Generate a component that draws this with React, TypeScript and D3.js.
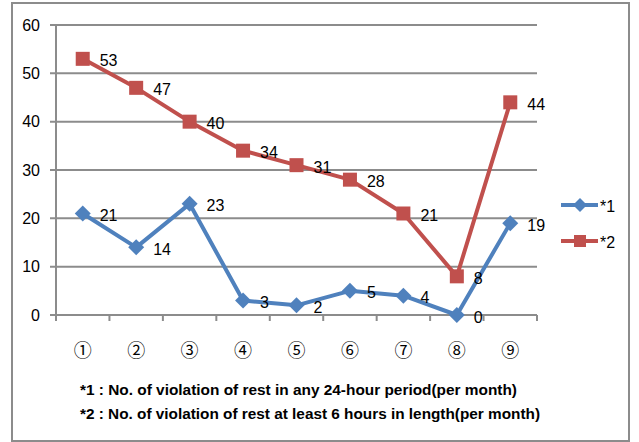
import React from "react";
import * as d3 from "d3";

const categories = ["①", "②", "③", "④", "⑤", "⑥", "⑦", "⑧", "⑨"];
const series1 = [21, 14, 23, 3, 2, 5, 4, 0, 19];
const series2 = [53, 47, 40, 34, 31, 28, 21, 8, 44];
const yTicks = [0, 10, 20, 30, 40, 50, 60];
const seriesNames = ["*1", "*2"];
const footnotes = [
  "*1 : No. of violation  of rest in any 24-hour period(per month)",
  "*2 : No. of violation  of rest at least 6 hours in length(per month)",
];

const W = 639;
const H = 442;
const plotL = 56;
const plotR = 537;
const plotT = 25;
const plotB = 315;
const blue = "#4F81BD";
const red = "#C0504D";
const grid = "#8C8C8C";
const font = "'Liberation Sans', Arial, sans-serif";

export default function App() {
  const x = d3.scaleBand().domain(categories).range([plotL, plotR]);
  const y = d3.scaleLinear().domain([0, 60]).range([plotB, plotT]);
  const cx = (i: number) => (x(categories[i]) as number) + x.bandwidth() / 2;
  const line = d3
    .line<number>()
    .x((_, i) => cx(i))
    .y((d) => y(d));

  const diamond = (px: number, py: number, r: number) =>
    `M${px},${py - r}L${px + r},${py}L${px},${py + r}L${px - r},${py}Z`;

  return (
    <svg
      width={W}
      height={H}
      style={{ position: "absolute", left: 0, top: 0, background: "#fff" }}
    >
      <rect x={12} y={3} width={617} height={438} fill="#fff" stroke="#8C8C8C" strokeWidth={2} />
      {yTicks.map((t) => (
        <g key={t}>
          <line x1={plotL - 6} x2={plotR} y1={y(t)} y2={y(t)} stroke={grid} strokeWidth={2} />
          <text
            x={40}
            y={y(t)}
            textAnchor="end"
            dominantBaseline="central"
            fontFamily={font}
            fontSize={16}
            fill="#000"
          >
            {t}
          </text>
        </g>
      ))}
      <line x1={plotL} x2={plotL} y1={plotT} y2={plotB} stroke={grid} strokeWidth={2} />
      {categories.map((c, i) => (
        <line
          key={"tk" + i}
          x1={(x(c) as number)}
          x2={(x(c) as number)}
          y1={plotB}
          y2={plotB + 6}
          stroke={grid}
          strokeWidth={2}
        />
      ))}
      <line x1={plotR} x2={plotR} y1={plotB} y2={plotB + 6} stroke={grid} strokeWidth={2} />
      {categories.map((c, i) => (
        <text
          key={"c" + i}
          x={cx(i)}
          y={349}
          textAnchor="middle"
          dominantBaseline="central"
          fontFamily="'Noto Sans CJK JP', 'DejaVu Sans', sans-serif"
          fontSize={18}
        >
          {c}
        </text>
      ))}
      <path d={line(series2) as string} fill="none" stroke={red} strokeWidth={4} strokeLinejoin="round" />
      <path d={line(series1) as string} fill="none" stroke={blue} strokeWidth={4} strokeLinejoin="round" />
      {series2.map((v, i) => (
        <rect key={"s2" + i} x={cx(i) - 7} y={y(v) - 7} width={14} height={14} fill={red} />
      ))}
      {series1.map((v, i) => (
        <path key={"s1" + i} d={diamond(cx(i), y(v), 8)} fill={blue} />
      ))}
      {series2.map((v, i) => (
        <text
          key={"l2" + i}
          x={cx(i) + 17}
          y={y(v) + 2}
          dominantBaseline="central"
          fontFamily={font}
          fontSize={16}
        >
          {v}
        </text>
      ))}
      {series1.map((v, i) => (
        <text
          key={"l1" + i}
          x={cx(i) + 17}
          y={y(v) + 2}
          dominantBaseline="central"
          fontFamily={font}
          fontSize={16}
        >
          {v}
        </text>
      ))}
      {seriesNames.map((n, i) => {
        const ly = 205 + i * 36;
        const col = i === 0 ? blue : red;
        return (
          <g key={"lg" + i}>
            <line x1={561} x2={598} y1={ly} y2={ly} stroke={col} strokeWidth={4} />
            {i === 0 ? (
              <path d={diamond(580, ly, 7)} fill={col} />
            ) : (
              <rect x={574} y={ly - 6} width={12} height={12} fill={col} />
            )}
            <text x={600} y={ly + 1} dominantBaseline="central" fontFamily={font} fontSize={16}>
              {n}
            </text>
          </g>
        );
      })}
      {footnotes.map((f, i) => (
        <text
          key={"f" + i}
          x={80}
          y={389 + i * 24}
          dominantBaseline="central"
          fontFamily={font}
          fontSize={15}
          fontWeight="bold"
          textLength={i === 0 ? 437 : 460}
          lengthAdjust="spacingAndGlyphs"
        >
          {f}
        </text>
      ))}
    </svg>
  );
}
